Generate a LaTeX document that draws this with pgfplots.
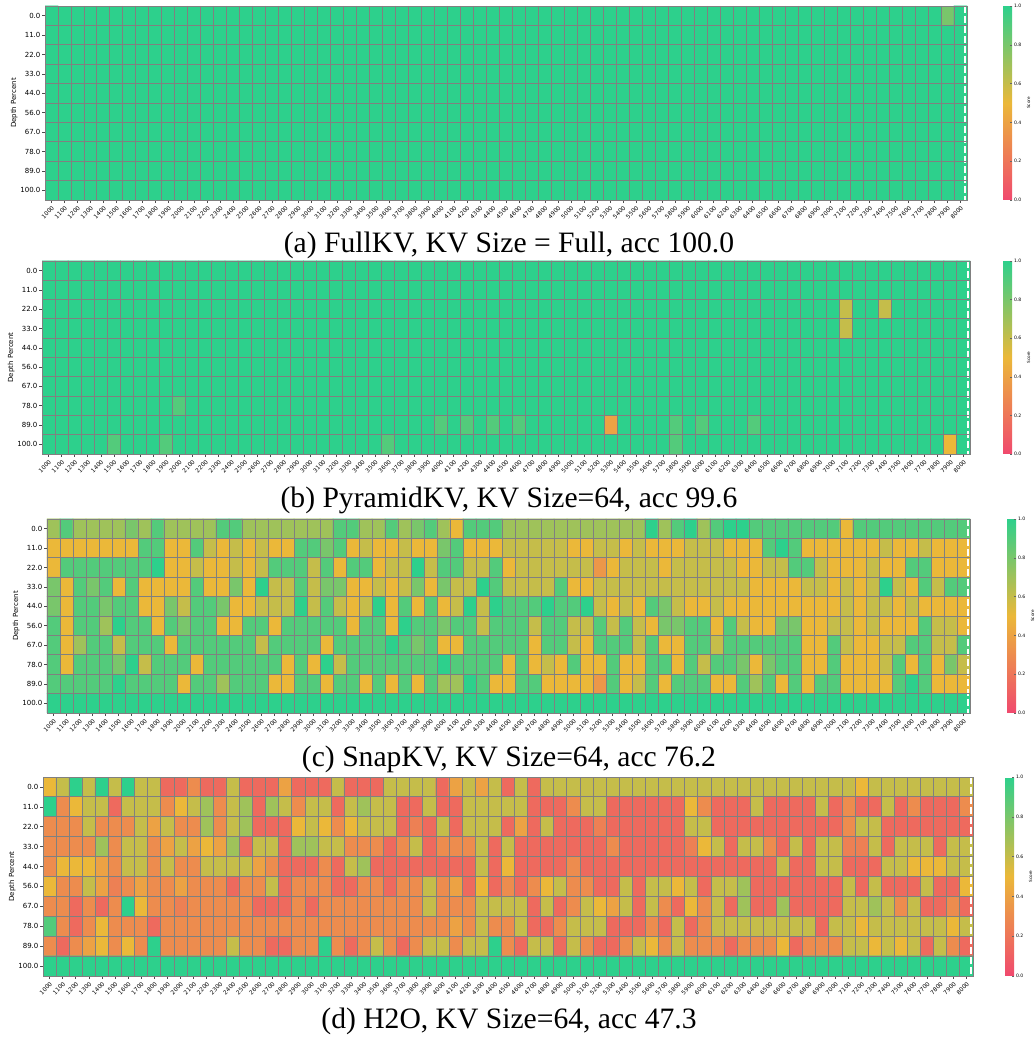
\documentclass[border=0pt]{standalone}
\usepackage{pgfplots}
\pgfplotsset{compat=1.18}
\usepackage{pgfplotstable}
\usepackage{fontspec}
\setmainfont{Liberation Serif}
\newfontfamily\dv{DejaVu Sans}

% (a) FullKV
\pgfplotstableread[row sep=\\,header=false]{
1\\1\\1\\1\\1\\1\\1\\1\\1\\1\\ 1\\1\\1\\1\\1\\1\\1\\1\\1\\1\\ 1\\1\\1\\1\\1\\1\\1\\1\\1\\1\\ 1\\1\\1\\1\\1\\1\\1\\1\\1\\1\\ 1\\1\\1\\1\\1\\1\\1\\1\\1\\1\\ 1\\1\\1\\1\\1\\1\\1\\1\\1\\1\\ 1\\1\\1\\1\\1\\1\\1\\1\\1\\0.8\\ 1\\
1\\1\\1\\1\\1\\1\\1\\1\\1\\1\\ 1\\1\\1\\1\\1\\1\\1\\1\\1\\1\\ 1\\1\\1\\1\\1\\1\\1\\1\\1\\1\\ 1\\1\\1\\1\\1\\1\\1\\1\\1\\1\\ 1\\1\\1\\1\\1\\1\\1\\1\\1\\1\\ 1\\1\\1\\1\\1\\1\\1\\1\\1\\1\\ 1\\1\\1\\1\\1\\1\\1\\1\\1\\1\\ 1\\
1\\1\\1\\1\\1\\1\\1\\1\\1\\1\\ 1\\1\\1\\1\\1\\1\\1\\1\\1\\1\\ 1\\1\\1\\1\\1\\1\\1\\1\\1\\1\\ 1\\1\\1\\1\\1\\1\\1\\1\\1\\1\\ 1\\1\\1\\1\\1\\1\\1\\1\\1\\1\\ 1\\1\\1\\1\\1\\1\\1\\1\\1\\1\\ 1\\1\\1\\1\\1\\1\\1\\1\\1\\1\\ 1\\
1\\1\\1\\1\\1\\1\\1\\1\\1\\1\\ 1\\1\\1\\1\\1\\1\\1\\1\\1\\1\\ 1\\1\\1\\1\\1\\1\\1\\1\\1\\1\\ 1\\1\\1\\1\\1\\1\\1\\1\\1\\1\\ 1\\1\\1\\1\\1\\1\\1\\1\\1\\1\\ 1\\1\\1\\1\\1\\1\\1\\1\\1\\1\\ 1\\1\\1\\1\\1\\1\\1\\1\\1\\1\\ 1\\
1\\1\\1\\1\\1\\1\\1\\1\\1\\1\\ 1\\1\\1\\1\\1\\1\\1\\1\\1\\1\\ 1\\1\\1\\1\\1\\1\\1\\1\\1\\1\\ 1\\1\\1\\1\\1\\1\\1\\1\\1\\1\\ 1\\1\\1\\1\\1\\1\\1\\1\\1\\1\\ 1\\1\\1\\1\\1\\1\\1\\1\\1\\1\\ 1\\1\\1\\1\\1\\1\\1\\1\\1\\1\\ 1\\
1\\1\\1\\1\\1\\1\\1\\1\\1\\1\\ 1\\1\\1\\1\\1\\1\\1\\1\\1\\1\\ 1\\1\\1\\1\\1\\1\\1\\1\\1\\1\\ 1\\1\\1\\1\\1\\1\\1\\1\\1\\1\\ 1\\1\\1\\1\\1\\1\\1\\1\\1\\1\\ 1\\1\\1\\1\\1\\1\\1\\1\\1\\1\\ 1\\1\\1\\1\\1\\1\\1\\1\\1\\1\\ 1\\
1\\1\\1\\1\\1\\1\\1\\1\\1\\1\\ 1\\1\\1\\1\\1\\1\\1\\1\\1\\1\\ 1\\1\\1\\1\\1\\1\\1\\1\\1\\1\\ 1\\1\\1\\1\\1\\1\\1\\1\\1\\1\\ 1\\1\\1\\1\\1\\1\\1\\1\\1\\1\\ 1\\1\\1\\1\\1\\1\\1\\1\\1\\1\\ 1\\1\\1\\1\\1\\1\\1\\1\\1\\1\\ 1\\
1\\1\\1\\1\\1\\1\\1\\1\\1\\1\\ 1\\1\\1\\1\\1\\1\\1\\1\\1\\1\\ 1\\1\\1\\1\\1\\1\\1\\1\\1\\1\\ 1\\1\\1\\1\\1\\1\\1\\1\\1\\1\\ 1\\1\\1\\1\\1\\1\\1\\1\\1\\1\\ 1\\1\\1\\1\\1\\1\\1\\1\\1\\1\\ 1\\1\\1\\1\\1\\1\\1\\1\\1\\1\\ 1\\
1\\1\\1\\1\\1\\1\\1\\1\\1\\1\\ 1\\1\\1\\1\\1\\1\\1\\1\\1\\1\\ 1\\1\\1\\1\\1\\1\\1\\1\\1\\1\\ 1\\1\\1\\1\\1\\1\\1\\1\\1\\1\\ 1\\1\\1\\1\\1\\1\\1\\1\\1\\1\\ 1\\1\\1\\1\\1\\1\\1\\1\\1\\1\\ 1\\1\\1\\1\\1\\1\\1\\1\\1\\1\\ 1\\
1\\1\\1\\1\\1\\1\\1\\1\\1\\1\\ 1\\1\\1\\1\\1\\1\\1\\1\\1\\1\\ 1\\1\\1\\1\\1\\1\\1\\1\\1\\1\\ 1\\1\\1\\1\\1\\1\\1\\1\\1\\1\\ 1\\1\\1\\1\\1\\1\\1\\1\\1\\1\\ 1\\1\\1\\1\\1\\1\\1\\1\\1\\1\\ 1\\1\\1\\1\\1\\1\\1\\1\\1\\1\\ 1\\
}\tabA

% (b) PyramidKV
\pgfplotstableread[row sep=\\,header=false]{
1\\1\\1\\1\\1\\1\\1\\1\\1\\1\\ 1\\1\\1\\1\\1\\1\\1\\1\\1\\1\\ 1\\1\\1\\1\\1\\1\\1\\1\\1\\1\\ 1\\1\\1\\1\\1\\1\\1\\1\\1\\1\\ 1\\1\\1\\1\\1\\1\\1\\1\\1\\1\\ 1\\1\\1\\1\\1\\1\\1\\1\\1\\1\\ 1\\1\\1\\1\\1\\1\\1\\1\\1\\1\\ 1\\
1\\1\\1\\1\\1\\1\\1\\1\\1\\1\\ 1\\1\\1\\1\\1\\1\\1\\1\\1\\1\\ 1\\1\\1\\1\\1\\1\\1\\1\\1\\1\\ 1\\1\\1\\1\\1\\1\\1\\1\\1\\1\\ 1\\1\\1\\1\\1\\1\\1\\1\\1\\1\\ 1\\1\\1\\1\\1\\1\\1\\1\\1\\1\\ 1\\1\\1\\1\\1\\1\\1\\1\\1\\1\\ 1\\
1\\1\\1\\1\\1\\1\\1\\1\\1\\1\\ 1\\1\\1\\1\\1\\1\\1\\1\\1\\1\\ 1\\1\\1\\1\\1\\1\\1\\1\\1\\1\\ 1\\1\\1\\1\\1\\1\\1\\1\\1\\1\\ 1\\1\\1\\1\\1\\1\\1\\1\\1\\1\\ 1\\1\\1\\1\\1\\1\\1\\1\\1\\1\\ 1\\0.6\\1\\1\\0.6\\1\\1\\1\\1\\1\\ 1\\
1\\1\\1\\1\\1\\1\\1\\1\\1\\1\\ 1\\1\\1\\1\\1\\1\\1\\1\\1\\1\\ 1\\1\\1\\1\\1\\1\\1\\1\\1\\1\\ 1\\1\\1\\1\\1\\1\\1\\1\\1\\1\\ 1\\1\\1\\1\\1\\1\\1\\1\\1\\1\\ 1\\1\\1\\1\\1\\1\\1\\1\\1\\1\\ 1\\0.6\\1\\1\\1\\1\\1\\1\\1\\1\\ 1\\
1\\1\\1\\1\\1\\1\\1\\1\\1\\1\\ 1\\1\\1\\1\\1\\1\\1\\1\\1\\1\\ 1\\1\\1\\1\\1\\1\\1\\1\\1\\1\\ 1\\1\\1\\1\\1\\1\\1\\1\\1\\1\\ 1\\1\\1\\1\\1\\1\\1\\1\\1\\1\\ 1\\1\\1\\1\\1\\1\\1\\1\\1\\1\\ 1\\1\\1\\1\\1\\1\\1\\1\\1\\1\\ 1\\
1\\1\\1\\1\\1\\1\\1\\1\\1\\1\\ 1\\1\\1\\1\\1\\1\\1\\1\\1\\1\\ 1\\1\\1\\1\\1\\1\\1\\1\\1\\1\\ 1\\1\\1\\1\\1\\1\\1\\1\\1\\1\\ 1\\1\\1\\1\\1\\1\\1\\1\\1\\1\\ 1\\1\\1\\1\\1\\1\\1\\1\\1\\1\\ 1\\1\\1\\1\\1\\1\\1\\1\\1\\1\\ 1\\
1\\1\\1\\1\\1\\1\\1\\1\\1\\1\\ 1\\1\\1\\1\\1\\1\\1\\1\\1\\1\\ 1\\1\\1\\1\\1\\1\\1\\1\\1\\1\\ 1\\1\\1\\1\\1\\1\\1\\1\\1\\1\\ 1\\1\\1\\1\\1\\1\\1\\1\\1\\1\\ 1\\1\\1\\1\\1\\1\\1\\1\\1\\1\\ 1\\1\\1\\1\\1\\1\\1\\1\\1\\1\\ 1\\
1\\1\\1\\1\\1\\1\\1\\1\\1\\1\\ 0.9\\1\\1\\1\\1\\1\\1\\1\\1\\1\\ 1\\1\\1\\1\\1\\1\\1\\1\\1\\1\\ 1\\1\\1\\1\\1\\1\\1\\1\\1\\1\\ 1\\1\\1\\1\\1\\1\\1\\1\\1\\1\\ 1\\1\\1\\1\\1\\1\\1\\1\\1\\1\\ 1\\1\\1\\1\\1\\1\\1\\1\\1\\1\\ 1\\
1\\1\\1\\1\\1\\1\\1\\1\\1\\1\\ 1\\1\\1\\1\\1\\1\\1\\1\\1\\1\\ 1\\1\\1\\1\\1\\1\\1\\1\\1\\1\\ 0.9\\1\\0.9\\1\\0.9\\1\\0.9\\1\\1\\1\\ 1\\1\\1\\0.4\\1\\1\\1\\1\\0.9\\1\\ 0.9\\1\\1\\1\\0.9\\1\\1\\1\\1\\1\\ 1\\1\\1\\1\\1\\1\\1\\1\\1\\1\\ 1\\
1\\1\\1\\1\\1\\0.9\\1\\1\\1\\0.9\\ 1\\1\\1\\1\\1\\1\\1\\1\\1\\1\\ 1\\1\\1\\1\\1\\1\\0.9\\1\\1\\1\\ 1\\1\\1\\1\\1\\1\\1\\1\\1\\1\\ 1\\1\\1\\1\\1\\1\\1\\1\\0.9\\1\\ 1\\1\\1\\1\\1\\1\\1\\1\\1\\1\\ 1\\1\\1\\1\\1\\1\\1\\1\\1\\0.5\\ 1\\
}\tabB

% (c) SnapKV
\pgfplotstableread[row sep=\\,header=false]{
0.7\\0.9\\0.7\\0.7\\0.7\\0.7\\0.8\\0.7\\0.9\\0.7\\ 0.7\\0.7\\0.7\\0.9\\0.9\\0.7\\0.7\\0.7\\0.7\\0.7\\ 0.7\\0.7\\0.9\\0.9\\0.7\\0.7\\0.9\\0.7\\0.8\\0.9\\ 0.7\\0.5\\0.9\\0.9\\0.9\\0.7\\0.7\\0.7\\0.7\\0.7\\ 0.7\\0.7\\0.7\\0.7\\0.7\\0.7\\1\\0.7\\0.9\\1\\ 0.7\\0.9\\1\\1\\0.9\\0.9\\0.9\\0.9\\0.9\\0.9\\ 0.9\\0.5\\0.9\\0.9\\0.9\\0.9\\0.9\\0.9\\0.9\\0.9\\ 0.9\\
0.5\\0.5\\0.5\\0.5\\0.5\\0.5\\0.5\\0.9\\0.9\\0.5\\ 0.5\\0.9\\0.6\\0.5\\0.6\\0.5\\0.6\\0.5\\0.5\\0.9\\ 0.9\\0.8\\0.9\\0.5\\0.6\\0.5\\0.5\\0.6\\0.5\\0.5\\ 0.8\\0.9\\0.5\\0.5\\0.5\\0.6\\0.6\\0.6\\0.6\\0.6\\ 0.5\\0.5\\0.6\\0.6\\0.5\\0.6\\0.5\\0.5\\0.5\\0.6\\ 0.6\\0.6\\0.5\\0.5\\0.5\\0.9\\1\\0.9\\0.5\\0.5\\ 0.5\\0.5\\0.5\\0.5\\0.6\\0.5\\0.5\\0.6\\0.5\\0.5\\ 0.5\\
0.5\\0.9\\0.9\\0.9\\0.9\\0.9\\0.9\\0.9\\1\\0.5\\ 0.5\\0.6\\0.5\\0.5\\0.6\\0.5\\0.6\\0.9\\0.9\\0.9\\ 0.6\\0.9\\0.5\\0.9\\0.9\\0.5\\0.6\\0.6\\1\\0.6\\ 0.9\\0.9\\0.6\\0.6\\0.9\\0.5\\0.6\\0.6\\0.6\\0.6\\ 0.6\\0.6\\0.35\\0.5\\0.6\\0.6\\0.6\\0.5\\0.6\\0.6\\ 0.6\\0.6\\0.6\\0.5\\0.5\\0.6\\0.6\\0.9\\0.9\\0.6\\ 0.5\\0.5\\0.5\\0.6\\0.5\\0.5\\0.9\\0.9\\0.5\\0.5\\ 0.5\\
0.8\\0.5\\0.9\\0.8\\0.9\\0.5\\0.9\\0.5\\0.5\\0.5\\ 0.5\\0.9\\0.5\\0.5\\0.8\\0.5\\1\\0.6\\0.6\\0.9\\ 0.6\\0.8\\0.8\\0.5\\0.5\\0.6\\0.5\\0.6\\0.8\\0.5\\ 0.8\\0.6\\0.6\\1\\0.9\\0.6\\0.6\\0.6\\0.6\\0.9\\ 0.5\\0.5\\0.6\\0.6\\0.6\\0.6\\0.6\\0.6\\0.6\\0.6\\ 0.6\\0.6\\0.6\\0.6\\0.5\\0.5\\0.5\\0.5\\0.6\\0.6\\ 0.5\\0.6\\0.5\\0.6\\1\\0.6\\0.5\\0.9\\0.6\\0.9\\ 0.9\\
0.8\\0.5\\0.9\\0.9\\0.8\\0.9\\0.9\\0.5\\0.5\\0.8\\ 0.6\\0.9\\0.9\\0.8\\0.5\\0.5\\0.6\\0.6\\0.6\\1\\ 0.6\\0.9\\0.6\\0.5\\0.6\\1\\0.5\\0.9\\0.5\\0.9\\ 0.5\\0.6\\1\\0.6\\1\\0.9\\0.9\\0.9\\1\\0.9\\ 0.9\\1\\0.6\\0.5\\0.6\\0.5\\0.9\\0.8\\0.6\\0.5\\ 0.5\\0.6\\0.5\\0.5\\0.5\\0.5\\0.5\\0.5\\0.5\\0.5\\ 0.5\\0.6\\0.5\\0.6\\0.6\\0.5\\0.6\\0.5\\0.5\\0.5\\ 0.5\\
0.9\\0.5\\0.9\\0.9\\0.7\\1\\0.9\\0.9\\0.5\\0.9\\ 0.8\\0.9\\0.9\\0.5\\0.5\\0.9\\0.9\\0.5\\0.9\\0.9\\ 0.9\\0.9\\0.9\\0.5\\0.9\\0.9\\0.5\\1\\0.9\\0.9\\ 0.8\\0.9\\0.9\\0.6\\0.9\\0.9\\0.9\\0.6\\0.9\\0.9\\ 0.6\\0.6\\0.9\\0.6\\0.9\\0.6\\0.5\\0.8\\0.8\\0.9\\ 0.9\\0.5\\0.9\\0.6\\0.5\\0.5\\0.8\\0.8\\0.5\\0.5\\ 0.6\\0.6\\0.5\\0.6\\0.5\\0.5\\0.5\\0.9\\0.6\\0.6\\ 0.5\\
0.9\\0.5\\0.7\\0.9\\0.9\\0.6\\0.9\\0.9\\0.9\\0.5\\ 0.9\\0.9\\0.9\\0.9\\0.9\\0.9\\0.6\\0.9\\0.9\\0.9\\ 0.9\\0.5\\0.9\\0.9\\0.9\\0.9\\1\\0.9\\0.8\\0.9\\ 0.5\\0.5\\0.9\\0.9\\0.9\\0.9\\0.9\\0.5\\0.9\\0.9\\ 0.6\\0.5\\0.9\\0.9\\0.9\\0.6\\0.9\\0.5\\0.5\\0.9\\ 0.9\\0.6\\0.9\\0.9\\0.9\\0.9\\0.9\\0.9\\0.5\\0.5\\ 0.9\\0.6\\0.5\\0.5\\0.6\\0.6\\0.9\\0.9\\0.6\\0.6\\ 0.9\\
0.9\\0.5\\0.9\\0.9\\0.9\\0.8\\1\\0.6\\0.9\\0.9\\ 0.9\\0.5\\0.9\\0.9\\0.9\\0.9\\0.9\\0.9\\0.5\\0.9\\ 0.5\\1\\0.6\\0.9\\0.9\\0.9\\0.9\\0.9\\0.9\\0.9\\ 1\\0.9\\0.9\\0.9\\0.9\\0.5\\0.9\\0.5\\0.6\\0.5\\ 0.9\\0.5\\0.5\\0.9\\0.5\\0.5\\0.9\\0.9\\0.5\\0.9\\ 0.6\\0.9\\0.9\\0.8\\0.5\\0.8\\0.9\\0.9\\0.5\\0.5\\ 0.9\\0.5\\0.5\\0.5\\0.6\\0.9\\0.5\\0.9\\0.5\\0.8\\ 0.6\\
0.9\\0.9\\0.9\\0.9\\0.9\\1\\0.9\\0.9\\0.9\\0.9\\ 0.5\\0.9\\0.9\\0.7\\0.9\\0.9\\0.9\\0.5\\0.5\\0.9\\ 0.9\\0.5\\0.9\\0.9\\0.5\\0.9\\0.5\\0.9\\0.5\\0.9\\ 0.7\\0.7\\1\\0.9\\0.5\\0.5\\0.9\\0.9\\0.5\\0.5\\ 0.5\\0.5\\0.35\\0.9\\0.5\\0.6\\0.9\\0.5\\0.9\\0.9\\ 0.9\\0.5\\0.5\\0.9\\0.7\\0.9\\0.5\\0.9\\0.5\\0.9\\ 0.9\\0.5\\0.5\\0.5\\0.5\\0.9\\1\\0.9\\0.5\\0.5\\ 0.5\\
1\\1\\1\\1\\1\\1\\1\\1\\1\\1\\ 1\\1\\1\\1\\1\\1\\1\\1\\1\\1\\ 1\\1\\1\\1\\1\\1\\1\\1\\1\\1\\ 1\\1\\1\\1\\1\\1\\1\\1\\1\\1\\ 1\\1\\1\\1\\1\\1\\1\\1\\1\\1\\ 1\\1\\1\\1\\1\\1\\1\\1\\1\\1\\ 1\\1\\1\\1\\1\\1\\1\\1\\1\\1\\ 1\\
}\tabC

% (d) H2O
\pgfplotstableread[row sep=\\,header=false]{
0.5\\0.6\\1\\0.6\\1\\0.6\\1\\0.6\\0.6\\0.15\\ 0.15\\0.3\\0.15\\0.15\\0.6\\0.15\\0.15\\0.15\\0.4\\0.15\\ 0.15\\0.15\\0.6\\0.15\\0.15\\0.15\\0.6\\0.6\\0.6\\0.6\\ 0.15\\0.4\\0.6\\0.4\\0.6\\0.15\\0.6\\0.15\\0.6\\0.6\\ 0.6\\0.6\\0.6\\0.6\\0.6\\0.6\\0.6\\0.6\\0.6\\0.6\\ 0.6\\0.6\\0.6\\0.6\\0.6\\0.6\\0.6\\0.6\\0.6\\0.6\\ 0.6\\0.6\\0.5\\0.6\\0.6\\0.6\\0.6\\0.6\\0.6\\0.6\\ 0.6\\
1\\0.3\\0.5\\0.6\\0.6\\0.15\\0.6\\0.6\\0.6\\0.3\\ 0.5\\0.6\\0.7\\0.3\\0.6\\0.7\\0.15\\0.7\\0.6\\0.3\\ 0.6\\0.6\\0.15\\0.6\\0.7\\0.6\\0.6\\0.15\\0.15\\0.6\\ 0.15\\0.15\\0.6\\0.6\\0.6\\0.6\\0.6\\0.15\\0.15\\0.15\\ 0.3\\0.6\\0.6\\0.15\\0.15\\0.15\\0.15\\0.15\\0.15\\0.5\\ 0.3\\0.15\\0.15\\0.15\\0.6\\0.15\\0.15\\0.15\\0.15\\0.6\\ 0.15\\0.3\\0.15\\0.15\\0.6\\0.15\\0.3\\0.15\\0.15\\0.15\\ 0.3\\
0.3\\0.3\\0.3\\0.6\\0.3\\0.3\\0.3\\0.6\\0.4\\0.6\\ 0.3\\0.3\\0.7\\0.3\\0.6\\0.7\\0.15\\0.15\\0.15\\0.5\\ 0.6\\0.5\\0.3\\0.5\\0.6\\0.6\\0.6\\0.15\\0.25\\0.15\\ 0.6\\0.15\\0.6\\0.6\\0.6\\0.15\\0.4\\0.15\\0.6\\0.15\\ 0.15\\0.15\\0.25\\0.15\\0.15\\0.15\\0.15\\0.15\\0.15\\0.6\\ 0.6\\0.15\\0.15\\0.15\\0.15\\0.15\\0.15\\0.15\\0.15\\0.15\\ 0.15\\0.3\\0.6\\0.6\\0.15\\0.15\\0.15\\0.15\\0.15\\0.15\\ 0.15\\
0.3\\0.3\\0.3\\0.3\\0.7\\0.3\\0.6\\0.6\\0.3\\0.4\\ 0.6\\0.4\\0.5\\0.4\\0.7\\0.15\\0.6\\0.6\\0.15\\0.7\\ 0.7\\0.6\\0.6\\0.3\\0.3\\0.3\\0.15\\0.3\\0.6\\0.15\\ 0.3\\0.3\\0.3\\0.6\\0.15\\0.6\\0.15\\0.15\\0.15\\0.15\\ 0.15\\0.15\\0.15\\0.3\\0.15\\0.15\\0.15\\0.15\\0.15\\0.25\\ 0.5\\0.6\\0.15\\0.6\\0.6\\0.3\\0.15\\0.6\\0.15\\0.6\\ 0.6\\0.25\\0.25\\0.6\\0.15\\0.6\\0.6\\0.6\\0.15\\0.6\\ 0.6\\
0.3\\0.5\\0.5\\0.5\\0.4\\0.3\\0.6\\0.6\\0.3\\0.6\\ 0.3\\0.3\\0.6\\0.6\\0.6\\0.6\\0.4\\0.3\\0.15\\0.15\\ 0.15\\0.3\\0.15\\0.6\\0.7\\0.15\\0.15\\0.15\\0.15\\0.15\\ 0.15\\0.15\\0.15\\0.6\\0.15\\0.5\\0.15\\0.15\\0.15\\0.15\\ 0.3\\0.15\\0.15\\0.15\\0.15\\0.15\\0.15\\0.15\\0.15\\0.15\\ 0.15\\0.15\\0.15\\0.15\\0.15\\0.15\\0.6\\0.15\\0.15\\0.6\\ 0.6\\0.15\\0.15\\0.15\\0.6\\0.6\\0.5\\0.5\\0.5\\0.6\\ 0.6\\
0.5\\0.3\\0.3\\0.6\\0.4\\0.25\\0.3\\0.4\\0.3\\0.3\\ 0.4\\0.3\\0.3\\0.3\\0.15\\0.3\\0.3\\0.6\\0.15\\0.3\\ 0.3\\0.3\\0.15\\0.15\\0.3\\0.3\\0.15\\0.3\\0.3\\0.6\\ 0.3\\0.4\\0.15\\0.5\\0.15\\0.3\\0.15\\0.3\\0.5\\0.6\\ 0.3\\0.3\\0.15\\0.15\\0.6\\0.15\\0.6\\0.6\\0.5\\0.6\\ 0.15\\0.6\\0.6\\0.7\\0.15\\0.15\\0.15\\0.15\\0.15\\0.15\\ 0.15\\0.6\\0.15\\0.6\\0.15\\0.15\\0.15\\0.6\\0.15\\0.15\\ 0.5\\
0.3\\0.3\\0.15\\0.3\\0.15\\0.3\\1\\0.5\\0.3\\0.3\\ 0.25\\0.3\\0.3\\0.3\\0.3\\0.3\\0.15\\0.15\\0.15\\0.3\\ 0.15\\0.3\\0.3\\0.3\\0.3\\0.3\\0.3\\0.3\\0.3\\0.6\\ 0.3\\0.3\\0.3\\0.6\\0.6\\0.6\\0.6\\0.15\\0.6\\0.15\\ 0.3\\0.6\\0.5\\0.4\\0.6\\0.15\\0.6\\0.3\\0.15\\0.5\\ 0.3\\0.6\\0.15\\0.7\\0.15\\0.15\\0.7\\0.15\\0.15\\0.15\\ 0.15\\0.6\\0.6\\0.7\\0.6\\0.3\\0.6\\0.15\\0.15\\0.3\\ 0.15\\
0.9\\0.3\\0.15\\0.3\\0.5\\0.3\\0.3\\0.3\\0.15\\0.3\\ 0.3\\0.3\\0.3\\0.3\\0.3\\0.3\\0.3\\0.3\\0.3\\0.3\\ 0.3\\0.3\\0.3\\0.3\\0.3\\0.3\\0.3\\0.3\\0.3\\0.3\\ 0.3\\0.4\\0.3\\0.6\\0.3\\0.3\\0.6\\0.15\\0.15\\0.3\\ 0.6\\0.6\\0.6\\0.15\\0.15\\0.15\\0.3\\0.15\\0.6\\0.15\\ 0.3\\0.6\\0.6\\0.6\\0.6\\0.6\\0.6\\0.6\\0.6\\0.15\\ 0.6\\0.6\\0.5\\0.6\\0.6\\0.6\\0.6\\0.6\\0.6\\0.5\\ 0.6\\
0.3\\0.15\\0.3\\0.4\\0.5\\0.3\\0.5\\0.3\\1\\0.3\\ 0.3\\0.3\\0.3\\0.3\\0.6\\0.3\\0.3\\0.15\\0.15\\0.3\\ 0.3\\1\\0.3\\0.15\\0.3\\0.6\\0.3\\0.15\\0.3\\0.6\\ 0.6\\0.3\\0.6\\0.6\\1\\0.3\\0.15\\0.6\\0.6\\0.15\\ 0.6\\0.3\\0.15\\0.15\\0.3\\0.6\\0.5\\0.3\\0.6\\0.3\\ 0.3\\0.3\\0.15\\0.3\\0.3\\0.3\\0.5\\0.15\\0.3\\0.3\\ 0.3\\0.6\\0.6\\0.5\\0.6\\0.5\\0.6\\0.15\\0.6\\0.3\\ 0.15\\
1\\1\\1\\1\\1\\1\\1\\1\\1\\1\\ 1\\1\\1\\1\\1\\1\\1\\1\\1\\1\\ 1\\1\\1\\1\\1\\1\\1\\1\\1\\1\\ 1\\1\\1\\1\\1\\1\\1\\1\\1\\1\\ 1\\1\\1\\1\\1\\1\\1\\1\\1\\1\\ 1\\1\\1\\1\\1\\1\\1\\1\\1\\1\\ 1\\1\\1\\1\\1\\1\\1\\1\\1\\1\\ 1\\
}\tabD

\tikzset{dashw/.style={white, line width=1pt, dash pattern=on 3.5pt off 1.5pt}}
\pgfplotsset{
  colormap={nih}{rgb255=(240,73,110) rgb255=(235,184,57) rgb255=(45,208,140)},
  hm/.style={
    scale only axis, colormap name=nih,
    xmin=-0.5, xmax=70.5, ymin=-0.5, ymax=9.5, y dir=reverse, enlargelimits=false,
    point meta min=0, point meta max=1,
    xtick={0,...,70},
    xticklabels={1000,1100,1200,1300,1400,1500,1600,1700,1800,1900,2000,2100,2200,2300,2400,2500,2600,2700,2800,2900,3000,3100,3200,3300,3400,3500,3600,3700,3800,3900,4000,4100,4200,4300,4400,4500,4600,4700,4800,4900,5000,5100,5200,5300,5400,5500,5600,5700,5800,5900,6000,6100,6200,6300,6400,6500,6600,6700,6800,6900,7000,7100,7200,7300,7400,7500,7600,7700,7800,7900,8000},
    ytick={0,...,9},
    yticklabels={0.0,11.0,22.0,33.0,44.0,56.0,67.0,78.0,89.0,100.0},
    minor xtick={-0.5,0.5,...,70.5}, minor ytick={-0.5,0.5,...,9.5},
    xminorgrids, yminorgrids, minor grid style={draw=gray, line width=0.45pt},
    minor tick length=0pt, major tick length=1.3pt, tick align=outside,
    xtick pos=bottom, ytick pos=left, major tick style={black!70, line width=0.3pt},
    axis line style={draw=gray, line width=0.45pt}, axis on top,
    yticklabel style={font=\dv\fontsize{3.5}{4}\selectfont, inner sep=0.8pt},
    xticklabel style={font=\dv\fontsize{2.9}{3.4}\selectfont, rotate=45, anchor=north east, inner sep=0.9pt},
    ylabel={Depth Percent}, ylabel shift=-3pt,
    ylabel style={font=\dv\fontsize{3.5}{4}\selectfont},
    colorbar,
    colorbar style={
      at={(parent axis.north east)}, anchor=north west,
      width=4.5pt,
      ytick={0,0.2,0.4,0.6,0.8,1}, yticklabels={0.0,0.2,0.4,0.6,0.8,1.0},
      ytick pos=right, yticklabel pos=right,
      yticklabel style={font=\dv\fontsize{2.3}{3}\selectfont, inner sep=0.8pt},
      major tick length=1pt, major tick style={black!60, line width=0.25pt},
      axis line style={draw=none},
      ylabel={Score}, ylabel near ticks, ylabel shift=-1.5pt,
      ylabel style={font=\dv\fontsize{2.1}{3}\selectfont},
    },
  },
  cells/.style={matrix plot*, mesh/cols=71, point meta=explicit},
}

\begin{document}
\begin{tikzpicture}
\useasboundingbox (0,0) rectangle (517pt,519pt);

\begin{axis}[hm, width=461pt, height=97pt, at={(22.5pt,419pt)}, anchor=south west,
  colorbar style={xshift=9.5pt}]
\addplot[cells] table[x index=0, y index=0, x expr={\coordindex-71*floor((\coordindex+0.5)/71)}, y expr={floor((\coordindex+0.5)/71)}, meta index=0] {\tabA};
\draw[dashw] (axis cs:70.38,-0.5) -- (axis cs:70.38,9.5);
\end{axis}
\node[font=\fontsize{14.8}{17}\selectfont] at (254.5pt,396.5pt) {(a) FullKV, KV Size = Full, acc 100.0};

\begin{axis}[hm, width=464pt, height=96.5pt, at={(21pt,292pt)}, anchor=south west,
  colorbar style={xshift=8pt}]
\addplot[cells] table[x index=0, y index=0, x expr={\coordindex-71*floor((\coordindex+0.5)/71)}, y expr={floor((\coordindex+0.5)/71)}, meta index=0] {\tabB};
\draw[dashw] (axis cs:70.38,-0.5) -- (axis cs:70.38,9.5);
\end{axis}
\node[font=\fontsize{14.8}{17}\selectfont] at (254.5pt,269pt) {(b) PyramidKV, KV Size=64, acc 99.6};

\begin{axis}[hm, width=461.5pt, height=97pt, at={(23.5pt,162.5pt)}, anchor=south west,
  colorbar style={xshift=10pt}]
\addplot[cells] table[x index=0, y index=0, x expr={\coordindex-71*floor((\coordindex+0.5)/71)}, y expr={floor((\coordindex+0.5)/71)}, meta index=0] {\tabC};
\draw[dashw] (axis cs:70.38,-0.5) -- (axis cs:70.38,9.5);
\end{axis}
\node[font=\fontsize{14.8}{17}\selectfont] at (254.5pt,139.5pt) {(c) SnapKV, KV Size=64, acc 76.2};

\begin{axis}[hm, width=465pt, height=99.5pt, at={(21.5pt,31pt)}, anchor=south west,
  colorbar style={xshift=7.5pt}]
\addplot[cells] table[x index=0, y index=0, x expr={\coordindex-71*floor((\coordindex+0.5)/71)}, y expr={floor((\coordindex+0.5)/71)}, meta index=0] {\tabD};
\draw[dashw] (axis cs:70.38,-0.5) -- (axis cs:70.38,9.5);
\end{axis}
\node[font=\fontsize{14.8}{17}\selectfont] at (254.5pt,8.5pt) {(d) H2O, KV Size=64, acc 47.3};

\end{tikzpicture}
\end{document}
